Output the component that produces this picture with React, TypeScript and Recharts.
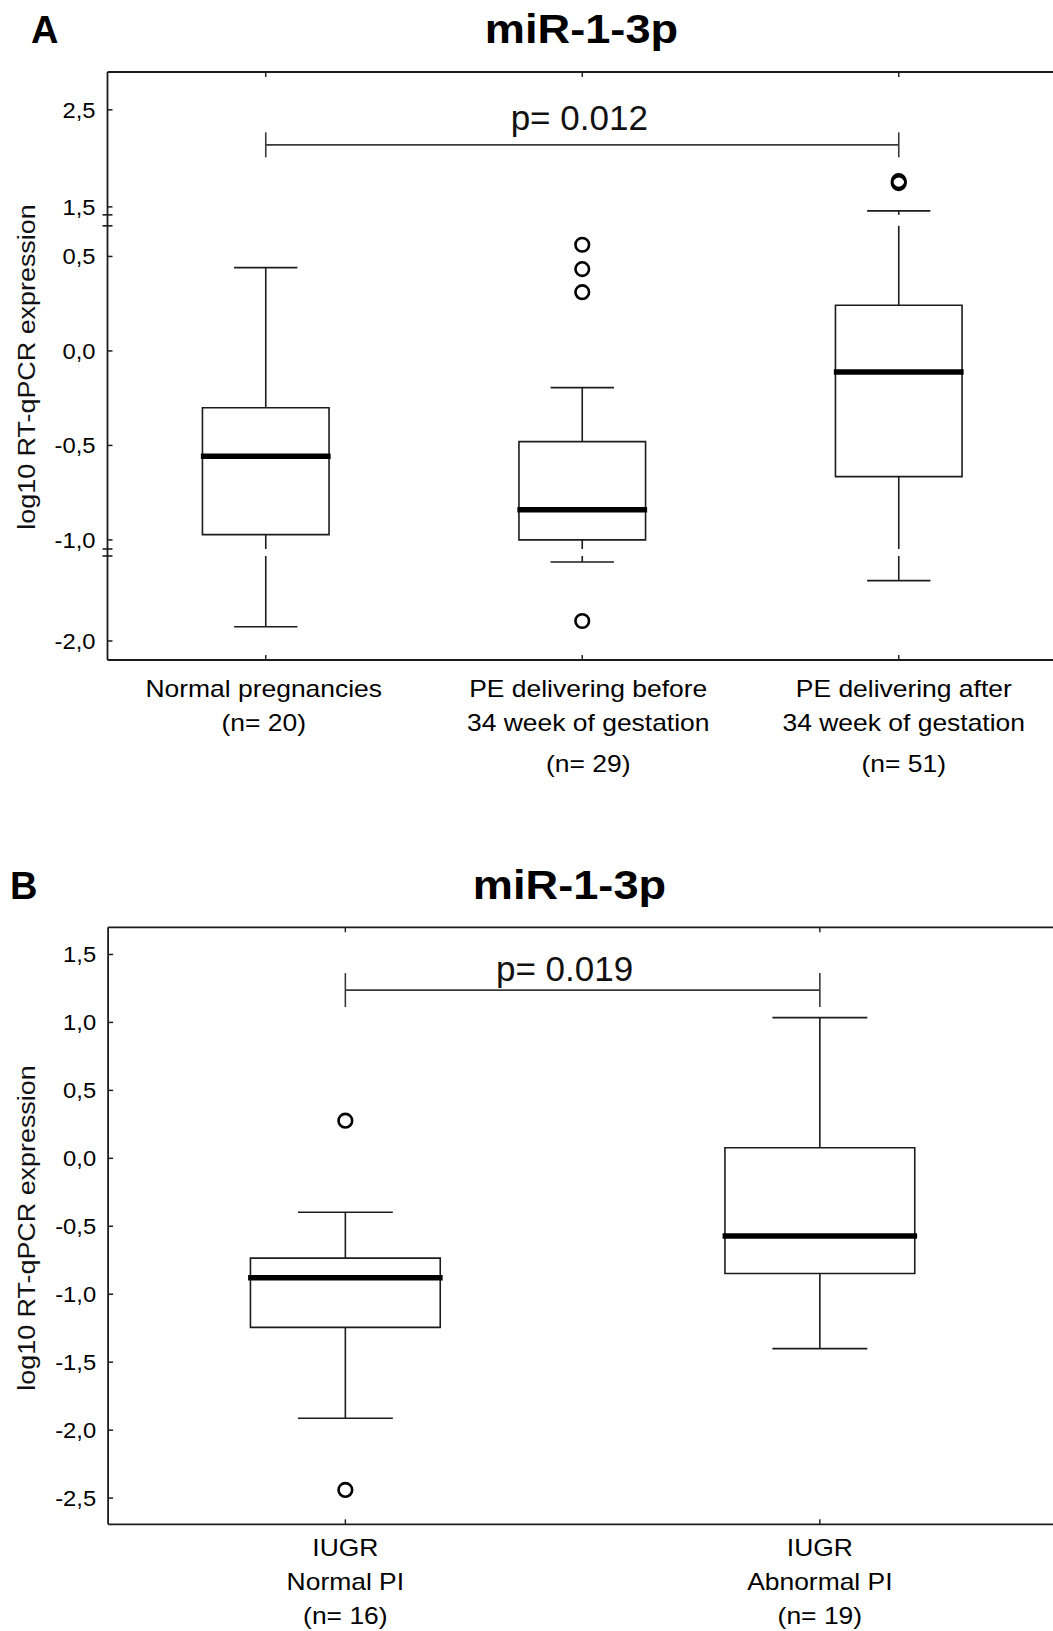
import React from 'react';
import { ComposedChart, XAxis, YAxis, Scatter, ReferenceLine, ReferenceArea } from 'recharts';

const FONT = '"Liberation Sans", Arial, Helvetica, sans-serif';
const INK = '#1c1c1c';

// ---------------- Panel A data ----------------
const A_LABELS = [
  ['Normal pregnancies', '(n= 20)'],
  ['PE delivering before', '34 week of gestation', '(n= 29)'],
  ['PE delivering after', '34 week of gestation', '(n= 51)'],
];
const A_MIN = [-1.853, -1.186, -1.378];
const A_Q1 = [-0.972, -1.0, -0.665];
const A_MEDIAN = [-0.557, -0.841, -0.112];
const A_Q3 = [-0.301, -0.48, 0.242];
const A_MAX = [0.441, -0.194, 1.459];
const A_OUTLIERS = [[], [0.562, 0.433, 0.311, -1.794], [1.765, 1.745]];
const A_TICKS = [2.5, 1.5, 0.5, 0, -0.5, -1.0, -2.0];
const A_PVALUE = { from: 0, to: 2, y: 2.139, text: 'p= 0.012' };
// broken axis: value ranges of each drawn segment and pixels per unit
const A_AXIS_SEGMENTS = [
  { lo: -2.196, hi: -1.124, k: 97 },
  { lo: -1.048, hi: 0.662, k: 188.9 },
  { lo: 1.418, hi: 2.89, k: 97 },
];
const A_AXIS_GAPS = [7, 11];

// ---------------- Panel B data ----------------
const B_LABELS = [
  ['IUGR', 'Normal PI', '(n= 16)'],
  ['IUGR', 'Abnormal PI', '(n= 19)'],
];
const B_MIN = [-1.913, -1.4];
const B_Q1 = [-1.244, -0.848];
const B_MEDIAN = [-0.878, -0.572];
const B_Q3 = [-0.734, 0.078];
const B_MAX = [-0.397, 1.035];
const B_OUTLIERS = [[0.277, -2.44], []];
const B_TICKS = [1.5, 1.0, 0.5, 0, -0.5, -1.0, -1.5, -2.0, -2.5];
const B_PVALUE = { from: 0, to: 1, y: 1.238, text: 'p= 0.019' };
const B_AXIS_SEGMENTS = [{ lo: -2.693, hi: 1.7, k: 135.9 }];
const B_AXIS_GAPS: number[] = [];

const BOX_HALF = 0.2;
const CAP_HALF = 0.1;

type Seg = { lo: number; hi: number; k: number };

function buildScale(segs: Seg[], gaps: number[]) {
  const offs: number[] = [];
  let acc = 0;
  segs.forEach((s, i) => {
    offs.push(acc);
    acc += (s.hi - s.lo) * s.k + (i < gaps.length ? gaps[i] : 0);
  });
  const last = segs[segs.length - 1];
  const total = offs[offs.length - 1] + (last.hi - last.lo) * last.k;
  const t = (v: number) => {
    let idx = segs.findIndex((s) => v >= s.lo - 1e-9 && v <= s.hi + 1e-9);
    if (idx < 0) {
      let best = Infinity;
      segs.forEach((s, i) => {
        const d = v < s.lo ? s.lo - v : v - s.hi;
        if (d < best) { best = d; idx = i; }
      });
    }
    const s = segs[idx];
    return offs[idx] + (v - s.lo) * s.k;
  };
  const pieces = (a: number, b: number) => {
    const out: [number, number][] = [];
    const lo0 = Math.min(a, b), hi0 = Math.max(a, b);
    segs.forEach((s) => {
      const lo = Math.max(lo0, s.lo), hi = Math.min(hi0, s.hi);
      if (hi > lo) out.push([t(lo), t(hi)]);
    });
    return out;
  };
  const boundaries: number[] = [];
  segs.forEach((s, i) => {
    if (i > 0) boundaries.push(offs[i]);
    if (i < segs.length - 1) boundaries.push(offs[i] + (s.hi - s.lo) * s.k);
  });
  return { t, total, pieces, boundaries };
}

const fmt = (v: number) => v.toFixed(1).replace('.', ',');

function BoxPanel(props: any) {
  const {
    labels, mins, q1s, meds, q3s, maxs, outliers, ticks, pval, segs, gaps,
    chartW, chartH, margin, xAxisH, labelOffsets, labelDx, bracketHalf, pDx, pGap,
  } = props;
  const sc = buildScale(segs, gaps);
  const n = labels.length;
  const tickText = new Map<string, string>();
  ticks.forEach((v: number) => tickText.set(sc.t(v).toFixed(3), fmt(v)));
  const yTicks = [...ticks.map(sc.t), ...sc.boundaries];
  const ax = { xAxisId: 'x', yAxisId: 'y', ifOverflow: 'visible' as const };

  const els: any[] = [];
  const seg = (key: string, x1: number, y1: number, x2: number, y2: number, stroke: string, w: number) =>
    els.push(
      <ReferenceLine key={key} {...ax} segment={[{ x: x1, y: y1 }, { x: x2, y: y2 }]} stroke={stroke} strokeWidth={w} />
    );

  // frame top and top ticks
  els.push(<ReferenceLine key="top" {...ax} y={sc.total} stroke={INK} strokeWidth={1.8} />);
  labels.forEach((_: any, i: number) => {
    seg(`tt${i}`, i + 0.5, sc.total, i + 0.5, sc.total - 5, INK, 1.4);
  });

  labels.forEach((_: any, i: number) => {
    const c = i + 0.5;
    // whiskers (split at axis breaks)
    sc.pieces(q3s[i], maxs[i]).forEach(([a, b], k) => seg(`wu${i}_${k}`, c, a, c, b, INK, 1.6));
    sc.pieces(mins[i], q1s[i]).forEach(([a, b], k) => seg(`wl${i}_${k}`, c, a, c, b, INK, 1.6));
    seg(`cu${i}`, c - CAP_HALF, sc.t(maxs[i]), c + CAP_HALF, sc.t(maxs[i]), INK, 1.6);
    seg(`cl${i}`, c - CAP_HALF, sc.t(mins[i]), c + CAP_HALF, sc.t(mins[i]), INK, 1.6);
    els.push(
      <ReferenceArea key={`box${i}`} {...ax} x1={c - BOX_HALF} x2={c + BOX_HALF} y1={sc.t(q1s[i])} y2={sc.t(q3s[i])}
        fill="none" fillOpacity={0} stroke={INK} strokeWidth={1.6} />
    );
    seg(`med${i}`, c - BOX_HALF - 0.005, sc.t(meds[i]), c + BOX_HALF + 0.005, sc.t(meds[i]), '#000', 5.5);
  });

  // significance bracket
  const by = sc.t(pval.y);
  const bx1 = pval.from + 0.5, bx2 = pval.to + 0.5;
  seg('bh', bx1, by, bx2, by, '#3a3a3a', 1.6);
  seg('bl', bx1, by - bracketHalf, bx1, by + bracketHalf, '#3a3a3a', 1.6);
  seg('br', bx2, by - bracketHalf, bx2, by + bracketHalf, '#3a3a3a', 1.6);

  const outPts = outliers.flatMap((arr: number[], i: number) => arr.map((v) => ({ x: i + 0.5, y: sc.t(v) })));
  const pPts = [{ x: (bx1 + bx2) / 2, y: by }];

  const YTick = (p: any) => {
    const { x, y, payload } = p;
    const label = tickText.get(Number(payload.value).toFixed(3));
    if (label === undefined) {
      return <line x1={x - 5} x2={x + 5} y1={y} y2={y} stroke={INK} strokeWidth={1.6} />;
    }
    return (
      <g>
        <line x1={x} x2={x + 5} y1={y} y2={y} stroke={INK} strokeWidth={1.5} />
        <text transform={`translate(${x - 12},${y + 8}) scale(1.08,1)`} textAnchor="end" fontSize={22}
          fontFamily={FONT} fill="#000">{label}</text>
      </g>
    );
  };

  const XTick = (p: any) => {
    const { x, y, payload } = p;
    const i = Math.round(Number(payload.value) - 0.5);
    const ls: string[] = labels[i] || [];
    const dx = labelDx ? labelDx[i] || 0 : 0;
    return (
      <g>
        <line x1={x} x2={x} y1={y} y2={y - 5} stroke={INK} strokeWidth={1.4} />
        {ls.map((s, k) => (
          <text key={k} transform={`translate(${x + dx},${y + labelOffsets[k]}) scale(1.15,1)`} textAnchor="middle"
            fontSize={23} fontFamily={FONT} fill="#000">{s}</text>
        ))}
      </g>
    );
  };

  return (
    <ComposedChart width={chartW} height={chartH} margin={margin}>
      <XAxis xAxisId="x" type="number" dataKey="x" domain={[0, n]} ticks={labels.map((_: any, i: number) => i + 0.5)}
        allowDataOverflow interval={0} height={xAxisH} tickSize={0} tickMargin={0} tickLine={false}
        axisLine={{ stroke: INK, strokeWidth: 1.8 }} tick={XTick} />
      <YAxis yAxisId="y" type="number" dataKey="y" domain={[0, sc.total]} ticks={yTicks} allowDataOverflow
        interval={0} width={60} tickSize={0} tickMargin={0} tickLine={false}
        axisLine={{ stroke: INK, strokeWidth: 1.8 }} tick={YTick} />
      {els}
      <Scatter xAxisId="x" yAxisId="y" data={outPts} isAnimationActive={false}
        shape={(s: any) => <circle cx={s.cx} cy={s.cy} r={6.8} fill="none" stroke="#000" strokeWidth={2.6} />} />
      <Scatter xAxisId="x" yAxisId="y" data={pPts} isAnimationActive={false}
        shape={(s: any) => (
          <text x={s.cx + pDx} y={s.cy - pGap} textAnchor="middle" fontSize={35} fontFamily={FONT} fill="#111">
            {pval.text}
          </text>
        )} />
    </ComposedChart>
  );
}

export default function App() {
  return (
    <div style={{ position: 'relative', width: 1053, height: 1631, overflow: 'hidden', background: '#fff' }}>
      <style>{'html,body{margin:0;padding:0;overflow:hidden;background:#fff}'}</style>
      <div style={{ position: 'absolute', left: 0, top: 0 }}>
        <BoxPanel labels={A_LABELS} mins={A_MIN} q1s={A_Q1} meds={A_MEDIAN} q3s={A_Q3} maxs={A_MAX}
          outliers={A_OUTLIERS} ticks={A_TICKS} pval={A_PVALUE} segs={A_AXIS_SEGMENTS} gaps={A_AXIS_GAPS}
          chartW={1070} chartH={790} margin={{ top: 72, right: 13, bottom: 0, left: 47.5 }} xAxisH={130}
          labelOffsets={[37, 71, 112]} labelDx={[-2, 6, 5]} bracketHalf={12.5} pDx={-3} pGap={15} />
      </div>
      <div style={{ position: 'absolute', left: 0, top: 850 }}>
        <BoxPanel labels={B_LABELS} mins={B_MIN} q1s={B_Q1} meds={B_MEDIAN} q3s={B_Q3} maxs={B_MAX}
          outliers={B_OUTLIERS} ticks={B_TICKS} pval={B_PVALUE} segs={B_AXIS_SEGMENTS} gaps={B_AXIS_GAPS}
          chartW={1070} chartH={781} margin={{ top: 77.3, right: 12.9, bottom: 0, left: 48.1 }} xAxisH={106.7}
          labelOffsets={[32, 66, 100]} labelDx={[0, 0]} bracketHalf={17} pDx={-18} pGap={9} />
      </div>
      <svg width={1053} height={1631} style={{ position: 'absolute', left: 0, top: 0, pointerEvents: 'none' }}>
        <text x={31} y={43} fontSize={38} fontWeight="bold" fontFamily={FONT} fill="#000">A</text>
        <text transform="translate(581.5,43) scale(1.13,1)" textAnchor="middle" fontSize={40} fontWeight="bold"
          fontFamily={FONT} fill="#000">miR-1-3p</text>
        <text x={10} y={899} fontSize={38} fontWeight="bold" fontFamily={FONT} fill="#000">B</text>
        <text transform="translate(569.5,899) scale(1.13,1)" textAnchor="middle" fontSize={40} fontWeight="bold"
          fontFamily={FONT} fill="#000">miR-1-3p</text>
        <text transform="translate(35,367) rotate(-90) scale(1.17,1)" textAnchor="middle" fontSize={23}
          fontFamily={FONT} fill="#111">log10 RT-qPCR expression</text>
        <text transform="translate(35,1228) rotate(-90) scale(1.17,1)" textAnchor="middle" fontSize={23}
          fontFamily={FONT} fill="#111">log10 RT-qPCR expression</text>
      </svg>
    </div>
  );
}
